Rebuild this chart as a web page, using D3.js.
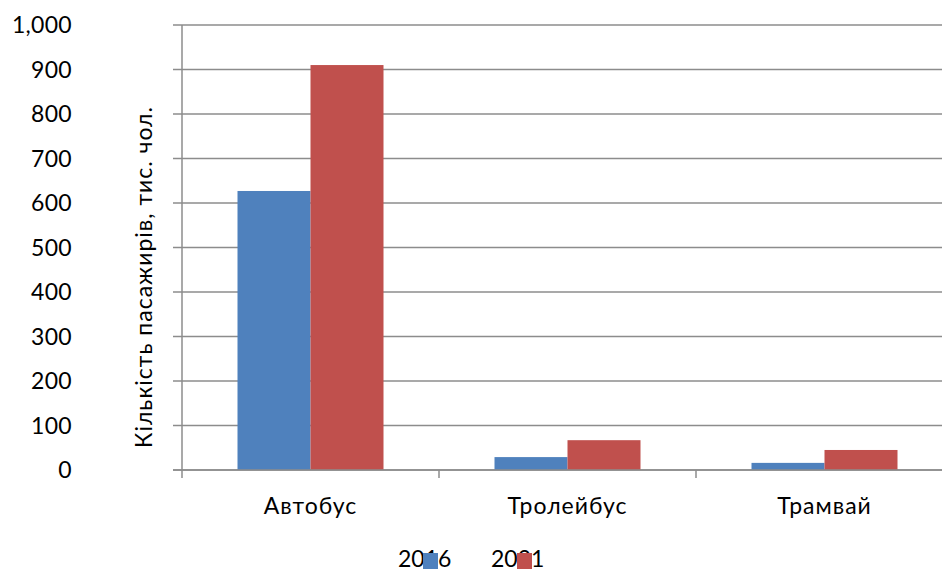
<!DOCTYPE html>
<html>
<head>
<meta charset="utf-8">
<script src="https://cdn.jsdelivr.net/npm/d3@7"></script>
<style>
  html, body { margin: 0; padding: 0; background: #fff; }
  svg { display: block; font-family: Lato, "Open Sans", sans-serif; }
</style>
</head>
<body>
<svg id="chart" width="942" height="569"></svg>
<script>
// Passenger counts by transport type, thousands of people
const categories = ["Автобус", "Тролейбус", "Трамвай"];
const seriesNames = ["2016", "2021"];
const values2016 = [627, 29, 16];
const values2021 = [910, 67, 45];
const yTicks = [0, 100, 200, 300, 400, 500, 600, 700, 800, 900, 1000];
const yTitle = "Кількість пасажирів, тис. чол.";
const colors = ["#4F81BD", "#C0504D"];

const series = [values2016, values2021];
const svg = d3.select("#chart");

const plot = { left: 182, top: 25, bottom: 470, band: 257 };

const x = d3.scaleBand()
  .domain(categories)
  .range([plot.left, plot.left + plot.band * categories.length])
  .paddingInner(0).paddingOuter(0);

const xInner = d3.scaleBand()
  .domain(seriesNames)
  .range([55.5, x.bandwidth() - 55.5])
  .padding(0);

const y = d3.scaleLinear().domain([0, 1000]).range([plot.bottom, plot.top]);

const gridColor = "#8c8c8c";

// horizontal gridlines, with the tick stub to the left of the axis
svg.append("g").selectAll("line")
  .data(yTicks)
  .join("line")
  .attr("x1", plot.left - 9)
  .attr("x2", 942)
  .attr("y1", d => y(d))
  .attr("y2", d => y(d))
  .attr("stroke", gridColor)
  .attr("stroke-width", 1.5);

// bars
const groups = svg.append("g").selectAll("g")
  .data(categories)
  .join("g")
  .attr("transform", d => `translate(${x(d)},0)`);

groups.selectAll("rect")
  .data((c, i) => seriesNames.map((s, k) => ({ s, v: series[k][i], k })))
  .join("rect")
  .attr("x", d => xInner(d.s))
  .attr("width", xInner.bandwidth())
  .attr("y", d => y(d.v))
  .attr("height", d => y(0) - y(d.v))
  .attr("fill", d => colors[d.k]);

// baseline redrawn over bars
svg.append("line")
  .attr("x1", plot.left - 9).attr("x2", 942)
  .attr("y1", y(0)).attr("y2", y(0))
  .attr("stroke", gridColor).attr("stroke-width", 1.5);

// vertical axis
svg.append("line")
  .attr("x1", plot.left).attr("x2", plot.left)
  .attr("y1", plot.top).attr("y2", plot.bottom + 8)
  .attr("stroke", gridColor).attr("stroke-width", 1.5);

// category separators
const seps = d3.range(1, categories.length).map(i => plot.left + plot.band * i);
svg.append("g").selectAll("line")
  .data(seps)
  .join("line")
  .attr("x1", d => d).attr("x2", d => d)
  .attr("y1", plot.bottom).attr("y2", plot.bottom + 8)
  .attr("stroke", gridColor).attr("stroke-width", 1.5);

// y tick labels
const fmt = d3.format(",");
svg.append("g").selectAll("text")
  .data(yTicks)
  .join("text")
  .attr("x", 72)
  .attr("y", d => y(d))
  .attr("dy", "0.36em")
  .attr("text-anchor", "end")
  .attr("font-size", 23)
  .attr("letter-spacing", 0.3)
  .attr("fill", "#000")
  .text(d => fmt(d));

// category labels
svg.append("g").selectAll("text")
  .data(categories)
  .join("text")
  .attr("x", d => x(d) + x.bandwidth() / 2)
  .attr("y", 514)
  .attr("text-anchor", "middle")
  .attr("font-size", 23)
  .attr("letter-spacing", 1)
  .attr("fill", "#000")
  .text(d => d);

// axis title
svg.append("text")
  .attr("transform", "translate(152,277) rotate(-90)")
  .attr("text-anchor", "middle")
  .attr("font-size", 23)
  .attr("letter-spacing", 1)
  .attr("fill", "#000")
  .text(yTitle);

// legend
const legend = svg.append("g");
const legendItems = [
  { name: seriesNames[0], tx: 398, sx: 423, color: colors[0] },
  { name: seriesNames[1], tx: 491, sx: 517, color: colors[1] }
];
legend.selectAll("text")
  .data(legendItems)
  .join("text")
  .attr("x", d => d.tx)
  .attr("y", 567)
  .attr("font-size", 23)
  .attr("fill", "#000")
  .text(d => d.name);
legend.selectAll("rect")
  .data(legendItems)
  .join("rect")
  .attr("x", d => d.sx)
  .attr("y", 553)
  .attr("width", 15)
  .attr("height", 16)
  .attr("fill", d => d.color);
</script>
</body>
</html>
